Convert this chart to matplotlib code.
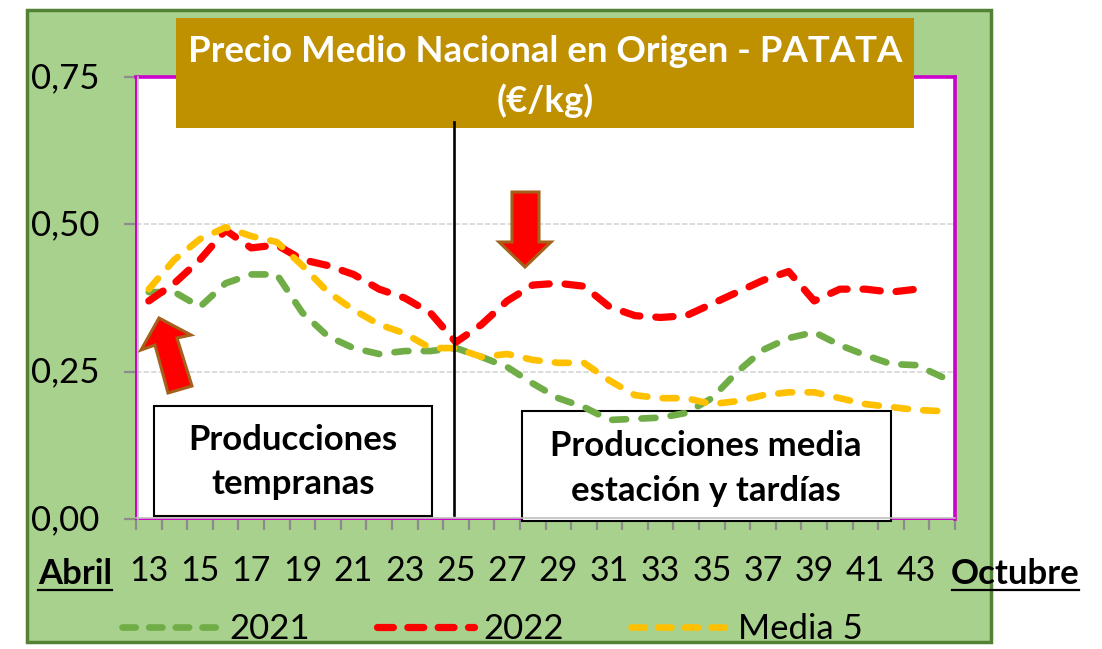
"""Precio medio nacional en origen - patata, campaña por semanas."""
import matplotlib
matplotlib.use("Agg")
import matplotlib.pyplot as plt
from matplotlib.lines import Line2D
from matplotlib.patches import Polygon, Rectangle
from matplotlib.transforms import ScaledTranslation

plt.rcParams["font.family"] = ["Lato", "DejaVu Sans"]

W, H = 1102, 649

weeks = list(range(13, 45))
v2021 = [0.385, 0.385, 0.36, 0.40, 0.415, 0.415, 0.35, 0.31, 0.29, 0.28, 0.285, 0.285,
         0.29, 0.275, 0.258, 0.23, 0.205, 0.19, 0.168, 0.17, 0.172, 0.18, 0.205, 0.25,
         0.287, 0.307, 0.317, 0.295, 0.278, 0.263, 0.261, 0.241]
# 2022 stops at week 43
v2022 = [0.37, 0.40, 0.44, 0.49, 0.46, 0.465, 0.44, 0.43, 0.415, 0.39, 0.375, 0.35,
         0.30, 0.33, 0.37, 0.397, 0.40, 0.395, 0.36, 0.345, 0.342, 0.345, 0.365, 0.385,
         0.405, 0.42, 0.37, 0.39, 0.39, 0.385, 0.39]
media5 = [0.39, 0.44, 0.475, 0.495, 0.48, 0.47, 0.43, 0.385, 0.355, 0.33, 0.315, 0.29,
          0.29, 0.275, 0.28, 0.27, 0.265, 0.265, 0.235, 0.21, 0.205, 0.205, 0.195, 0.20,
          0.21, 0.215, 0.215, 0.205, 0.195, 0.19, 0.185, 0.183]
yticks = [0, 0.25, 0.5, 0.75]
ylabels = ["0,00", "0,25", "0,50", "0,75"]
xticks = list(range(13, 44, 2))

GREEN = "#70AD47"
RED = "#FF0000"
YELLOW = "#FFC000"
DASH = (0, (2.1, 2.3))
DASH_RED = (0, (2.4, 2.2))
DASH_KEY = (0, (2.0, 2.0))
DASH_KEY_RED = (0, (2.2, 2.0))
LW = 4.8
LW_RED = 5.2
TEXT = 25


def fx(x):
    return x / W


def fy(y):
    return 1 - y / H


def box(x0, y0, x1, y1, **kw):
    r = Rectangle((fx(x0), fy(y1)), fx(x1 - x0), (y1 - y0) / H, transform=fig.transFigure, **kw)
    fig.add_artist(r)


def arrow(points):
    pts = [(fx(x), fy(y)) for x, y in points]
    fig.add_artist(Polygon(pts, closed=True, transform=fig.transFigure, facecolor=RED,
                           edgecolor="#A5601A", linewidth=2.2, joinstyle="miter", zorder=6))


def label(x, y, s, size=TEXT, color="black", weight="bold"):
    fig.text(fx(x), fy(y), s, ha="center", va="center", fontsize=size, color=color,
             fontweight=weight, zorder=8)


fig = plt.figure(figsize=(W / 100, H / 100), dpi=100, facecolor="white")
box(27, 10, 991, 642, facecolor="#A9D18E", edgecolor="#548235", linewidth=2.5, zorder=-5)

ax = fig.add_axes([fx(136), fy(519), (955 - 136) / W, (519 - 77) / H], facecolor="white")
ax.set_xlim(12.5, 44.5)
ax.set_ylim(0, 0.75)

ax.plot(weeks, v2021, color=GREEN, lw=LW, ls=DASH, dash_capstyle="round",
        dash_joinstyle="round", zorder=3)
ax.plot(weeks[:len(v2022)], v2022, color=RED, lw=LW_RED, ls=DASH_RED, dash_capstyle="round",
        dash_joinstyle="round", zorder=3.1)
ax.plot(weeks, media5, color=YELLOW, lw=LW, ls=DASH, dash_capstyle="round",
        dash_joinstyle="round", zorder=3.2)

ax.set_yticks(yticks, ylabels)
ax.set_xticks(xticks, [str(x) for x in xticks])
ax.set_xticks([w - 0.5 for w in weeks] + [44.5], minor=True)
ax.tick_params(axis="x", which="major", length=0, pad=26, labelsize=TEXT - 0.5)
ax.tick_params(axis="x", which="minor", length=8, width=1.6, color="#8C8C8C")
ax.tick_params(axis="y", length=8.5, width=1.6, color="#8C8C8C", pad=18, labelsize=TEXT)
ax.grid(axis="y", color="#D9D9D9", ls=(0, (3, 1.2)), lw=1.3)
ax.set_axisbelow(True)
for name, s in ax.spines.items():
    s.set_color("#CC00CC")
    s.set_linewidth(2.6 if name in ("top", "right") else 1.4)

# y labels sit a touch higher than the tick in the original
up = ScaledTranslation(0, 0.02, fig.dpi_scale_trans)
for t in ax.get_yticklabels():
    t.set_transform(t.get_transform() + up)

# grey axis lines sit just inside the magenta border
fig.add_artist(Line2D([fx(137.5)] * 2, [fy(77), fy(519)], color="#BFBFBF", lw=1.2, zorder=1))
fig.add_artist(Line2D([fx(136), fx(955)], [fy(517.5)] * 2, color="#BFBFBF", lw=1.2, zorder=1))

# title band
box(176, 18, 914, 128, facecolor="#BF9000", edgecolor="none", zorder=5)
label(545, 51, "Precio Medio Nacional en Origen - PATATA", size=26.4, color="white")
label(545, 101, "(€/kg)", size=26.4, color="white")

# split between early and late production
fig.add_artist(Line2D([fx(453.5)] * 2, [fy(122), fy(515)], color="black", lw=1.9, zorder=6))

box(154, 406, 432, 516, facecolor="white", edgecolor="black", linewidth=1.5, zorder=6)
label(293, 440, "Producciones")
label(293, 484, "tempranas")
# this one sits under the lines: the 2021 dashes show over its top edge
ax.add_patch(Rectangle((fx(522), fy(521)), fx(891 - 522), (521 - 411) / H, transform=fig.transFigure,
                       facecolor="white", edgecolor="black", linewidth=1.5, clip_on=False, zorder=2.7))
label(706, 446, "Producciones media")
label(706, 491, "estación y tardías")

arrow([(512, 192), (539, 192), (539, 242), (551, 242), (525, 267), (499, 242), (512, 242)])
arrow([(159, 318), (191, 335), (177, 338), (192, 386), (168, 393), (155, 345), (141, 350)])

label(75, 574, "Abril")
fig.add_artist(Line2D([fx(38), fx(112)], [fy(590), fy(590)], color="black", lw=1.6, zorder=8))
label(1015, 574, "Octubre")
fig.add_artist(Line2D([fx(952), fx(1079)], [fy(590), fy(590)], color="black", lw=1.6, zorder=8))

handles = [Line2D([], [], color=c, lw=LW, ls=DASH_KEY, dash_capstyle="round") for c in (GREEN, YELLOW)]
handles.insert(1, Line2D([], [], color=RED, lw=LW_RED, ls=DASH_KEY_RED, dash_capstyle="round"))
fig.legend(handles, ["2021", "2022", "Media 5"], ncol=3, frameon=False, fontsize=TEXT,
           loc="center", bbox_to_anchor=(fx(492.5), fy(629)), handlelength=2.8,
           handletextpad=0.28, columnspacing=1.93, borderpad=0, borderaxespad=0)

fig.savefig("out.png", dpi=100)
